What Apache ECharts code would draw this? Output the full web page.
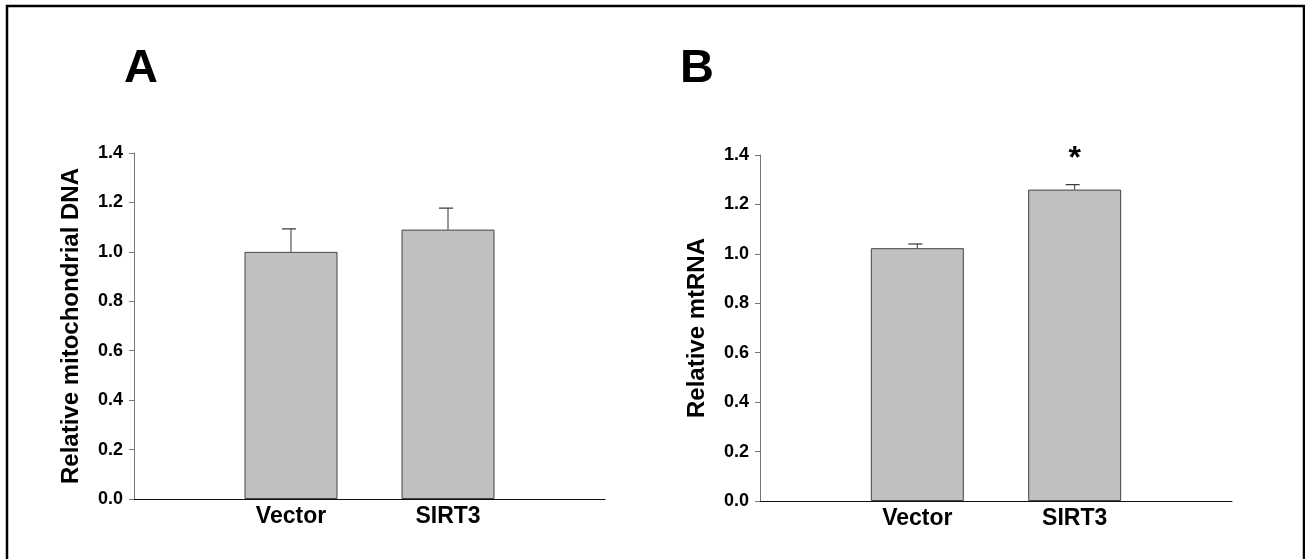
<!DOCTYPE html>
<html>
<head>
<meta charset="utf-8">
<script src="https://cdn.jsdelivr.net/npm/echarts@6/dist/echarts.min.js"></script>
<style>
	html, body { margin: 0; padding: 0; background: #fff; }
	#chart { width: 1305px; height: 559px; }
</style>
</head>
<body>
<div id="chart"></div>
<script>
// groups on the x axis
const categories = ['Vector', 'SIRT3'];
// panel A: relative mitochondrial DNA
const mtDNA = [1.00, 1.09];
const mtDNAErr = [0.093, 0.087];
// panel B: relative mtRNA
const mtRNA = [1.023, 1.26];
const mtRNAErr = [0.017, 0.020];
const mtRNASig = ['', '*'];
// y axis ticks
const yMin = 0, yMax = 1.4, yStep = 0.2;

const FONT = "'Liberation Sans', Arial, sans-serif";
// pad with empty slots so the two bars sit at 1/3 and 2/3 of the axis
const xData = [''].concat(categories).concat(['']);
function pad(arr) { return [null].concat(arr).concat([null]); }

function errData(vals, errs) {
	let out = [];
	for (var i = 0; i < vals.length; i++) {
		out.push([i + 1, vals[i], vals[i] + errs[i]]);
	}
	return out;
}

const errSig = { 1: ['', ''], 3: mtRNASig };
function renderErr(params, api) {
	let x = api.value(0);
	let base = api.coord([x, api.value(1)]);
	let top = api.coord([x, api.value(2)]);
	let sig = errSig[params.seriesIndex][params.dataIndex];
	let children = [
		{ type: 'line', shape: { x1: base[0], y1: base[1], x2: top[0], y2: top[1] },
		  style: { stroke: '#333', lineWidth: 1 } },
		{ type: 'line', shape: { x1: top[0] - 9, y1: top[1], x2: top[0] + 5, y2: top[1] },
		  style: { stroke: '#333', lineWidth: 1.2 } }
	];
	if (sig) {
		children.push({ type: 'text', style: { text: sig, x: top[0], y: top[1] - 25,
			align: 'center', verticalAlign: 'middle', font: 'bold 32px ' + FONT, fill: '#000' } });
	}
	return { type: 'group', children: children };
}

function xAxisOf(idx) {
	return {
		type: 'category', gridIndex: idx, data: xData, boundaryGap: false,
		axisLine: { lineStyle: { color: '#111', width: 1 } },
		axisTick: { show: false },
		axisLabel: { color: '#000', fontFamily: FONT, fontWeight: 'bold', fontSize: 23, margin: 6, interval: 0 },
		splitLine: { show: false }
	};
}
function yAxisOf(idx, name) {
	return {
		type: 'value', gridIndex: idx, min: yMin, max: yMax, interval: yStep,
		name: name, nameLocation: 'middle', nameGap: 51,
		nameTextStyle: { color: '#000', fontFamily: FONT, fontWeight: 'bold', fontSize: 24 },
		axisLine: { show: true, lineStyle: { color: '#777', width: 1 } },
		axisTick: { show: true, length: 5, lineStyle: { color: '#777' } },
		axisLabel: { color: '#000', fontFamily: FONT, fontWeight: 'bold', fontSize: 18, margin: 11,
			formatter: function(v) { return v.toFixed(1); } },
		splitLine: { show: false }
	};
}
function barOf(idx, vals) {
	return {
		type: 'bar', xAxisIndex: idx, yAxisIndex: idx, data: pad(vals), barWidth: 93,
		itemStyle: { color: '#c0c0c0', borderColor: '#444', borderWidth: 1 },
		silent: true, z: 2
	};
}

var myChart = echarts.init(document.getElementById('chart'));
var options = {
	backgroundColor: '#fff',
	animation: false,
	grid: [
		{ left: 134, top: 153, width: 471, height: 346 },
		{ left: 760, top: 155, width: 472, height: 346 }
	],
	xAxis: [xAxisOf(0), xAxisOf(1)],
	yAxis: [yAxisOf(0, 'Relative mitochondrial DNA'), yAxisOf(1, 'Relative mtRNA')],
	series: [
		barOf(0, mtDNA),
		{ type: 'custom', xAxisIndex: 0, yAxisIndex: 0, data: errData(mtDNA, mtDNAErr), renderItem: renderErr, z: 3, silent: true },
		barOf(1, mtRNA),
		{ type: 'custom', xAxisIndex: 1, yAxisIndex: 1, data: errData(mtRNA, mtRNAErr), renderItem: renderErr, z: 3, silent: true }
	],
	graphic: [
		{ type: 'rect', shape: { x: 7, y: 6, width: 1297, height: 700 },
		  style: { fill: 'none', stroke: '#000', lineWidth: 2.5 }, silent: true },
		{ type: 'text', left: 124, top: 46, style: { text: 'A', font: 'bold 47px ' + FONT, fill: '#000' } },
		{ type: 'text', left: 680, top: 46, style: { text: 'B', font: 'bold 47px ' + FONT, fill: '#000' } }
	]
};
myChart.setOption(options);
</script>
</body>
</html>
